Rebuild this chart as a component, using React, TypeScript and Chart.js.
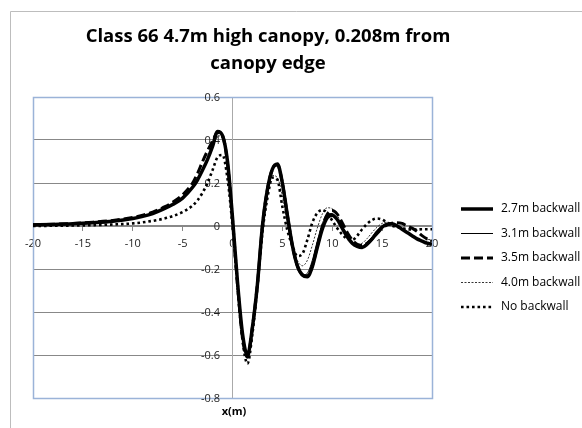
import React, { useEffect, useRef } from 'react';
import { Chart, registerables } from 'chart.js';

Chart.register(...registerables);

const TITLE_LINES = ['Class 66 4.7m high canopy, 0.208m from', 'canopy edge'];
const X_TITLE = 'x(m)';
const SERIES_NAMES = ['2.7m backwall', '3.1m backwall', '3.5m backwall', '4.0m backwall', 'No backwall'];
const X_TICKS = { min: -20, max: 20, step: 5 };
const Y_TICKS = { min: -0.8, max: 0.6, step: 0.2 };

const X_VALUES = [
  -20, -18, -16, -14, -12, -10, -9, -8, -7, -6, -5,
  -4, -3.5, -3, -2.5, -2, -1.5, -1, -0.5, 0, 0.5, 1, 1.5, 2, 2.5, 3, 3.5, 4, 4.5, 5, 5.5,
  6, 6.5, 7, 7.5, 8, 8.5, 9, 9.5, 10, 10.5, 11, 11.5, 12, 12.5, 13, 13.5, 14, 14.5, 15,
  15.5, 16, 16.5, 17, 17.5, 18, 18.5, 19, 19.5, 20,
];

const BACKWALL_27 = [
  0.005, 0.007, 0.01, 0.015, 0.022, 0.035, 0.045, 0.058, 0.077, 0.1, 0.13,
  0.18, 0.215, 0.26, 0.31, 0.37, 0.44, 0.42, 0.3, 0.04, -0.26, -0.5, -0.6, -0.47, -0.27, 0.0, 0.17, 0.265, 0.288, 0.2, 0.05,
  -0.09, -0.185, -0.228, -0.236, -0.19, -0.1, -0.015, 0.038, 0.05, 0.03, -0.01, -0.05, -0.08, -0.095, -0.1, -0.085, -0.06, -0.03, -0.005,
  0.008, 0.01, 0.0, -0.015, -0.03, -0.045, -0.06, -0.07, -0.08, -0.085,
];

const BACKWALL_31 = [
  0.005, 0.007, 0.01, 0.015, 0.022, 0.036, 0.046, 0.06, 0.078, 0.102, 0.133,
  0.185, 0.22, 0.265, 0.315, 0.375, 0.435, 0.415, 0.29, 0.03, -0.26, -0.5, -0.6, -0.47, -0.27, 0.0, 0.17, 0.26, 0.28, 0.19, 0.04,
  -0.1, -0.195, -0.23, -0.22, -0.16, -0.07, 0.01, 0.055, 0.058, 0.03, -0.015, -0.055, -0.083, -0.095, -0.093, -0.075, -0.05, -0.02, 0.0,
  0.01, 0.008, -0.003, -0.018, -0.033, -0.048, -0.062, -0.072, -0.08, -0.083,
];

const BACKWALL_35 = [
  0.006, 0.008, 0.012, 0.018, 0.026, 0.04, 0.05, 0.064, 0.085, 0.11, 0.145,
  0.2, 0.245, 0.3, 0.35, 0.395, 0.435, 0.42, 0.29, 0.03, -0.27, -0.52, -0.61, -0.47, -0.27, 0.0, 0.17, 0.265, 0.285, 0.2, 0.05,
  -0.09, -0.185, -0.226, -0.232, -0.185, -0.095, -0.005, 0.055, 0.072, 0.055, 0.015, -0.03, -0.065, -0.085, -0.09, -0.08, -0.06, -0.035, -0.01,
  0.005, 0.013, 0.015, 0.012, 0.0, -0.01, -0.025, -0.045, -0.06, -0.07,
];

const BACKWALL_40 = [
  0.004, 0.006, 0.009, 0.013, 0.02, 0.033, 0.043, 0.056, 0.074, 0.097, 0.128,
  0.178, 0.212, 0.255, 0.305, 0.365, 0.42, 0.41, 0.28, 0.02, -0.27, -0.51, -0.6, -0.46, -0.25, 0.0, 0.16, 0.235, 0.225, 0.14, 0.02,
  -0.09, -0.16, -0.185, -0.16, -0.09, -0.01, 0.055, 0.085, 0.08, 0.05, 0.005, -0.04, -0.07, -0.085, -0.08, -0.058, -0.03, -0.005, 0.012,
  0.018, 0.012, 0.0, -0.015, -0.03, -0.045, -0.058, -0.068, -0.075, -0.078,
];

const NO_BACKWALL = [
  0.0, 0.001, 0.002, 0.004, 0.007, 0.012, 0.017, 0.024, 0.033, 0.046, 0.065,
  0.095, 0.12, 0.155, 0.2, 0.26, 0.32, 0.33, 0.22, 0.0, -0.28, -0.53, -0.64, -0.5, -0.28, -0.03, 0.13, 0.225, 0.215, 0.09, -0.02,
  -0.09, -0.14, -0.13, -0.065, 0.015, 0.06, 0.075, 0.06, 0.025, -0.01, -0.04, -0.06, -0.065, -0.045, -0.015, 0.01, 0.028, 0.035, 0.03,
  0.015, 0.002, -0.005, -0.01, -0.015, -0.016, -0.016, -0.015, -0.015, -0.015,
];

const SERIES_VALUES = [BACKWALL_27, BACKWALL_31, BACKWALL_35, BACKWALL_40, NO_BACKWALL];

const LINE_STYLES = [
  { width: 3.5, dash: [] as number[], cap: 'butt' },
  { width: 1, dash: [] as number[], cap: 'butt' },
  { width: 3, dash: [9, 4], cap: 'butt' },
  { width: 0.8, dash: [2, 1.5], cap: 'butt' },
  { width: 2.6, dash: [2.6, 2.9], cap: 'butt' },
];

const FONT = '"Open Sans", "DejaVu Sans", sans-serif';

export default function App() {
  const ref = useRef<HTMLCanvasElement>(null);

  useEffect(() => {
    const canvas = ref.current;
    if (!canvas) return;

    const fmt = (v: number) => String(Number(v.toFixed(1)));

    const decor = {
      id: 'decor',
      beforeDraw(chart: any) {
        const ctx = chart.ctx;
        ctx.save();
        ctx.fillStyle = '#ffffff';
        ctx.fillRect(0, 0, chart.width, chart.height);
        ctx.strokeStyle = '#bdbdbd';
        ctx.lineWidth = 1;
        ctx.beginPath();
        ctx.moveTo(10.5, chart.height);
        ctx.lineTo(10.5, 11.5);
        ctx.lineTo(chart.width, 11.5);
        ctx.stroke();
        ctx.restore();
      },
      beforeDatasetsDraw(chart: any) {
        const ctx = chart.ctx;
        const a = chart.chartArea;
        ctx.save();
        ctx.strokeStyle = '#9bb3d8';
        ctx.lineWidth = 1.5;
        ctx.strokeRect(Math.round(a.left) + 0.5, Math.round(a.top) + 0.5, Math.round(a.right - a.left), Math.round(a.bottom - a.top));
        // y tick labels, right-aligned a little left of the vertical axis
        const ys = chart.scales.y;
        const axisX = Math.round(chart.scales.x.getPixelForValue(0));
        ctx.fillStyle = '#222';
        ctx.font = `11px ${FONT}`;
        ctx.textAlign = 'right';
        ctx.textBaseline = 'alphabetic';
        ys.ticks.forEach((t: any) => {
          const y = Math.round(ys.getPixelForValue(t.value)) + 4;
          ctx.fillText(fmt(t.value), axisX - 13, y);
        });
        ctx.restore();
      },
      afterDraw(chart: any) {
        const ctx = chart.ctx;
        const a = chart.chartArea;
        ctx.save();
        ctx.fillStyle = '#000';
        ctx.textAlign = 'center';
        ctx.textBaseline = 'middle';
        ctx.font = `bold 18.5px ${FONT}`;
        ctx.fillText(TITLE_LINES[0], 268, 37);
        ctx.fillText(TITLE_LINES[1], 268, 64);
        ctx.font = `bold 11px ${FONT}`;
        ctx.fillText(X_TITLE, chart.scales.x.getPixelForValue(0) + 1.5, a.bottom + 14);
        // legend
        ctx.textAlign = 'left';
        ctx.font = `12px ${FONT}`;
        chart.data.datasets.forEach((ds: any, i: number) => {
          const y = 209 + i * 24.5;
          ctx.save();
          ctx.strokeStyle = '#000';
          ctx.lineWidth = ds.borderWidth;
          ctx.setLineDash(ds.borderDash || []);
          ctx.lineCap = ds.borderCapStyle || 'butt';
          ctx.beginPath();
          ctx.moveTo(461, y);
          ctx.lineTo(493, y);
          ctx.stroke();
          ctx.restore();
          ctx.fillText(ds.label, 501, y);
        });
        ctx.restore();
      },
    };

    const chart = new Chart(canvas, {
      type: 'line',
      data: {
        datasets: SERIES_NAMES.map((name, i) => ({
          label: name,
          data: X_VALUES.map((x, j) => ({ x, y: SERIES_VALUES[i][j] })),
          borderColor: '#000',
          backgroundColor: '#000',
          borderWidth: LINE_STYLES[i].width,
          borderDash: LINE_STYLES[i].dash,
          borderCapStyle: LINE_STYLES[i].cap as any,
          pointRadius: 0,
          cubicInterpolationMode: 'monotone' as const,
          fill: false,
        })),
      },
      options: {
        responsive: false,
        animation: false,
        layout: { padding: { left: 33, right: 150, top: 97, bottom: 30 } },
        plugins: {
          legend: { display: false },
          title: { display: false },
          tooltip: { enabled: false },
        },
        scales: {
          x: {
            type: 'linear',
            min: X_TICKS.min,
            max: X_TICKS.max,
            position: { y: 0 } as any,
            ticks: {
              stepSize: X_TICKS.step,
              autoSkip: false,
              maxRotation: 0,
              padding: 6,
              color: '#222',
              font: { family: FONT, size: 11 },
            },
            grid: { drawOnChartArea: false, drawTicks: true, tickLength: 5, color: '#888' },
            border: { display: true, color: '#888', width: 1 },
          },
          y: {
            type: 'linear',
            min: Y_TICKS.min,
            max: Y_TICKS.max,
            position: { x: 0 } as any,
            ticks: {
              stepSize: Y_TICKS.step,
              display: false,
            },
            grid: { color: '#888', drawTicks: false },
            border: { display: true, color: '#aaa', width: 1 },
          },
        },
      },
      plugins: [decor],
    });

    return () => chart.destroy();
  }, []);

  return (
    <div style={{ position: 'fixed', left: 0, top: 0, width: 582, height: 428, background: '#fff' }}>
      <canvas ref={ref} width={582} height={428} style={{ display: 'block', width: 582, height: 428 }} />
    </div>
  );
}
